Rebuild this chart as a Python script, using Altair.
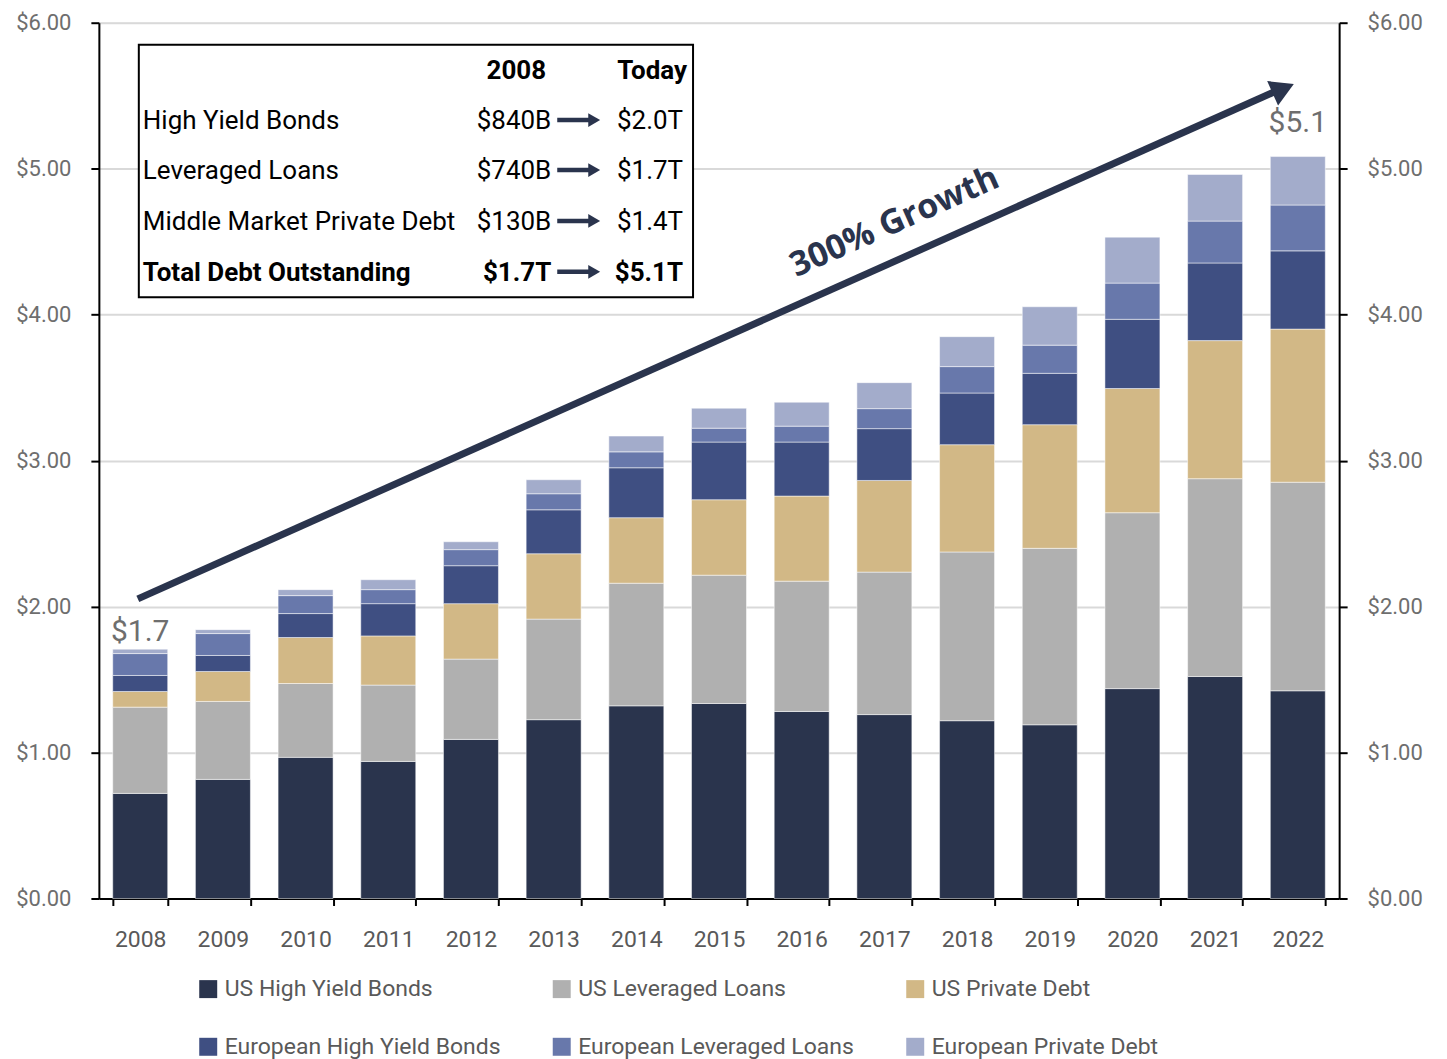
import altair as alt
import pandas as pd

# ---------------- data ----------------
years = [str(y) for y in range(2008, 2023)]

series_names = [
    "US High Yield Bonds",
    "US Leveraged Loans",
    "US Private Debt",
    "European High Yield Bonds",
    "European Leveraged Loans",
    "European Private Debt",
]
series_colors = ["#2A344D", "#B0B0B0", "#D2B886", "#3F4F82", "#6878AB", "#A3ACCB"]

us_hy = [0.720, 0.816, 0.967, 0.939, 1.090, 1.225, 1.320, 1.336, 1.281, 1.260, 1.218, 1.190, 1.438, 1.521, 1.423]
us_ll = [0.591, 0.534, 0.506, 0.523, 0.550, 0.689, 0.840, 0.879, 0.893, 0.976, 1.156, 1.209, 1.205, 1.355, 1.429]
us_pd = [0.107, 0.205, 0.315, 0.337, 0.380, 0.448, 0.449, 0.517, 0.583, 0.628, 0.735, 0.847, 0.851, 0.946, 1.049]
eu_hy = [0.110, 0.110, 0.164, 0.221, 0.260, 0.301, 0.342, 0.395, 0.370, 0.355, 0.354, 0.352, 0.474, 0.532, 0.536]
eu_ll = [0.150, 0.150, 0.123, 0.096, 0.110, 0.110, 0.109, 0.095, 0.109, 0.137, 0.181, 0.193, 0.248, 0.287, 0.314]
eu_pd = [0.030, 0.027, 0.041, 0.068, 0.054, 0.096, 0.108, 0.137, 0.164, 0.178, 0.205, 0.263, 0.315, 0.319, 0.332]
series_values = [us_hy, us_ll, us_pd, eu_hy, eu_ll, eu_pd]

y_ticks = [0, 1, 2, 3, 4, 5, 6]

table_header = ["2008", "Today"]
table_labels = ["High Yield Bonds", "Leveraged Loans", "Middle Market Private Debt", "Total Debt Outstanding"]
table_2008 = ["$840B", "$740B", "$130B", "$1.7T"]
table_today = ["$2.0T", "$1.7T", "$1.4T", "$5.1T"]
growth_text = "300% Growth"

# ---------------- frames ----------------
rows = []
for i, (name, vals) in enumerate(zip(series_names, series_values)):
    for yr, v in zip(years, vals):
        rows.append({"year": yr, "series": name, "value": v, "order": i})
df = pd.DataFrame(rows)

tot = df.groupby("year", as_index=False)["value"].sum()
tot["label"] = tot["value"].map(lambda v: f"${v:.1f}")
first_tot = tot[tot["year"] == years[0]]
last_tot = tot[tot["year"] == years[-1]]

FONT = "Roboto, sans-serif"
AXFONT = "Roboto, sans-serif"
NAVY = "#2A344D"

W, H = 1242, 877

x_enc = alt.X(
    "year:N",
    sort=years,
    scale=alt.Scale(paddingInner=0.335, paddingOuter=0.1675),
    axis=alt.Axis(
        title=None, labelAngle=0, labelFont=AXFONT, labelFontSize=23, labelColor="#595959",
        labelPadding=23, tickBand="extent", tickSize=7, tickColor="black", tickWidth=2,
        domainColor="black", domainWidth=2, grid=False,
    ),
)
y_scale = alt.Scale(domain=[0, 6], nice=False, zero=True)

def y_axis(orient, grid):
    return alt.Axis(
        orient=orient, title=None, values=y_ticks, format="$.2f",
        labelFont=AXFONT, labelFontSize=22, labelColor="#6E6E6E", labelPadding=20,
        tickSize=8, tickColor="black", tickWidth=2, domainColor="black", domainWidth=2,
        grid=grid, gridColor="#D9D9D9", gridWidth=2,
    )

bars = alt.Chart(df).mark_bar(stroke="white", strokeWidth=1, strokeOpacity=0.5).encode(
    x=x_enc,
    y=alt.Y("value:Q", stack="zero", scale=y_scale, axis=y_axis("left", True)),
    color=alt.Color(
        "series:N",
        sort=series_names,
        scale=alt.Scale(domain=series_names, range=series_colors),
        legend=alt.Legend(
            title=None, orient="none", legendX=98, legendY=956, columns=3,
            direction="horizontal",
            symbolType="square", symbolSize=324, symbolStrokeWidth=0,
            labelFont=FONT, labelFontSize=23, labelColor="#595959", labelOffset=5,
            columnPadding=49, rowPadding=34, gridAlign="all", labelLimit=500, padding=0,
        ),
    ),
    order=alt.Order("order:Q"),
)

lbl_first = alt.Chart(first_tot).mark_text(
    font=AXFONT, fontSize=30, color="#6E6E6E", baseline="bottom", dy=-2
).encode(x=x_enc, y=alt.Y("value:Q", scale=y_scale, axis=None), text="label:N")

lbl_last = alt.Chart(last_tot).mark_text(
    font=AXFONT, fontSize=30, color="#6E6E6E", baseline="bottom", dy=-19
).encode(x=x_enc, y=alt.Y("value:Q", scale=y_scale, axis=y_axis("right", False)), text="label:N")

# table inset
def txt(t, x, y, align, bold=False, size=26):
    return alt.Chart(pd.DataFrame({"t": [t]})).mark_text(
        font=FONT, fontSize=size, fontWeight="bold" if bold else "normal",
        color="black", align=align, baseline="middle",
    ).encode(x=alt.value(x), y=alt.value(y), text="t:N")

box = alt.Chart(pd.DataFrame({"a": [0]})).mark_rect(
    fill="white", stroke="black", strokeWidth=2
).encode(x=alt.value(40), x2=alt.value(595), y=alt.value(22), y2=alt.value(275))

layers = [bars, lbl_first, lbl_last, box]
layers.append(txt(table_header[0], 418, 48, "center", True))
layers.append(txt(table_header[1], 554, 48, "center", True))
row_y = [98.5, 148.5, 199.5, 250.5]
for i, ry in enumerate(row_y):
    b = i == len(row_y) - 1
    layers.append(txt(table_labels[i], 44, ry, "left", b))
    layers.append(txt(table_2008[i], 453, ry, "right", b))
    layers.append(txt(table_today[i], 585, ry, "right", b))
    layers.append(
        alt.Chart(pd.DataFrame({"a": [0]})).mark_rule(color=NAVY, strokeWidth=4.5).encode(
            x=alt.value(459), x2=alt.value(492), y=alt.value(ry - 1), y2=alt.value(ry - 1)
        )
    )
    layers.append(
        alt.Chart(pd.DataFrame({"a": [0]})).mark_point(
            shape="triangle-right", filled=True, color=NAVY, size=190, opacity=1
        ).encode(x=alt.value(496), y=alt.value(ry - 1))
    )

# growth arrow
layers.append(
    alt.Chart(pd.DataFrame({"a": [0]})).mark_rule(color=NAVY, strokeWidth=7).encode(
        x=alt.value(39), y=alt.value(577), x2=alt.value(1180), y2=alt.value(68)
    )
)
layers.append(
    alt.Chart(pd.DataFrame({"a": [0]})).mark_point(
        shape="triangle-right", filled=True, color=NAVY, size=720, opacity=1, angle=336
    ).encode(x=alt.value(1186), y=alt.value(66))
)
layers.append(
    alt.Chart(pd.DataFrame({"t": [growth_text]})).mark_text(
        font="Open Sans, sans-serif", fontSize=34, fontWeight="bold", color=NAVY,
        angle=336, align="center", baseline="middle",
    ).encode(x=alt.value(797), y=alt.value(200), text="t:N")
)

chart = (
    alt.layer(*layers)
    .resolve_axis(y="independent")
    .properties(
        width=W, height=H,
        autosize=alt.AutoSizeParams(type="none"),
        padding={"left": 91, "top": 14, "right": 100, "bottom": 162},
    )
    .configure_view(stroke=None)
    .configure(background="white")
)

chart.save("out.html", embed_options={"renderer": "svg", "actions": False})
